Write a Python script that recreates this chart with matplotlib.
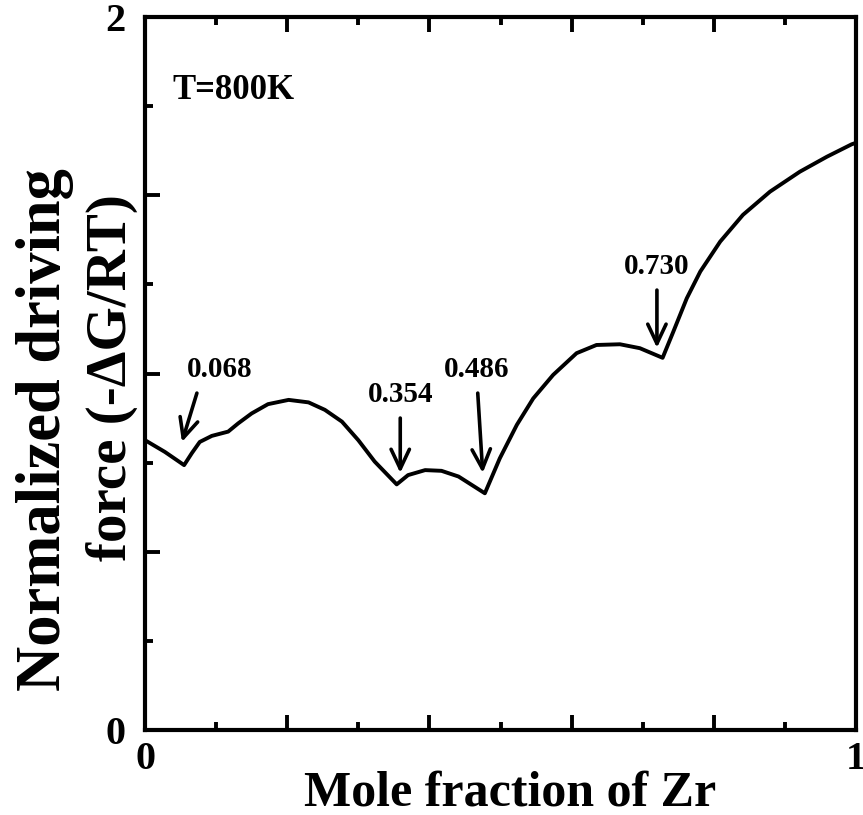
import matplotlib
matplotlib.use("Agg")
import matplotlib.pyplot as plt
from matplotlib.ticker import MultipleLocator

plt.rcParams["font.family"] = ["Liberation Serif", "DejaVu Serif"]
plt.rcParams["font.weight"] = "bold"

# curve (mole fraction of Zr, normalized driving force)
x_zr = [0.000, 0.028, 0.055, 0.066, 0.077, 0.094, 0.117, 0.131, 0.150, 0.173,
        0.202, 0.230, 0.253, 0.277, 0.300, 0.323, 0.354, 0.370, 0.394, 0.417,
        0.441, 0.478, 0.499, 0.523, 0.546, 0.574, 0.607, 0.635, 0.668, 0.696,
        0.728, 0.743, 0.762, 0.781, 0.809, 0.841, 0.879, 0.921, 0.959, 0.994,
        1.000]
force = [0.813, 0.780, 0.743, 0.777, 0.808, 0.825, 0.837, 0.860, 0.888, 0.914,
         0.926, 0.919, 0.898, 0.865, 0.813, 0.753, 0.689, 0.715, 0.729, 0.727,
         0.711, 0.664, 0.762, 0.856, 0.930, 0.996, 1.057, 1.080, 1.082, 1.071,
         1.044, 1.117, 1.211, 1.286, 1.370, 1.445, 1.510, 1.566, 1.608, 1.643,
         1.647]

# arrow annotations: label, text pos, arrow tail, arrow head
labels = ["0.068", "0.354", "0.486", "0.730"]
label_xy = [(0.105, 1.010), (0.359, 0.940), (0.467, 1.010), (0.720, 1.299)]
tail_xy = [(0.073, 0.945), (0.359, 0.875), (0.468, 0.945), (0.720, 1.234)]
head_xy = [(0.052, 0.808), (0.359, 0.721), (0.475, 0.721), (0.720, 1.072)]

x_ticks = [0, 0.2, 0.4, 0.6, 0.8, 1.0]
x_ticklabels = ["0", "", "", "", "", "1"]
y_ticks = [0, 0.5, 1.0, 1.5, 2.0]
y_ticklabels = ["0", "", "", "", "2"]

fig = plt.figure(figsize=(8.63, 8.15), dpi=100)
ax = fig.add_axes([145/863, 85/815, 711/863, 713/815])

ax.plot(x_zr, force, color="black", lw=2.8, solid_joinstyle="round")

for lab, lxy, t, h in zip(labels, label_xy, tail_xy, head_xy):
    ax.text(lxy[0], lxy[1], lab, ha="center", va="center", fontsize=21, fontweight="bold")
    ax.annotate("", xy=h, xytext=t,
                arrowprops=dict(arrowstyle="->,head_length=0.7,head_width=0.33",
                                mutation_scale=20, color="black", lw=2.6,
                                shrinkA=0, shrinkB=0))

ax.text(0.038, 1.795, "T=800K", ha="left", va="center", fontsize=25, fontweight="bold")

ax.set_xlim(0, 1)
ax.set_ylim(0, 2)
ax.set_xticks(x_ticks)
ax.set_xticklabels(x_ticklabels)
ax.set_yticks(y_ticks)
ax.set_yticklabels(y_ticklabels)
ax.xaxis.set_minor_locator(MultipleLocator(0.1))
ax.yaxis.set_minor_locator(MultipleLocator(0.25))

ax.tick_params(axis="both", which="both", direction="in", width=2.8, labelsize=29)
ax.tick_params(axis="x", which="both", top=True, bottom=True, pad=8)
ax.tick_params(axis="y", which="both", left=True, right=False, pad=14)
ax.tick_params(which="major", length=11)
ax.tick_params(which="minor", length=6)
for s in ax.spines.values():
    s.set_linewidth(3)

fig.text(510/863, 1 - 805/815, "Mole fraction of Zr", ha="center", va="baseline",
         fontsize=36, fontweight="bold")
fig.text(45/863, 1 - 430/815, "Normalized driving", rotation=90,
         ha="center", va="center", fontsize=45, fontweight="bold")
fig.text(112/863, 1 - 378/815, "force (-\u0394G/RT)", rotation=90,
         ha="center", va="center", fontsize=41, fontweight="bold")

fig.savefig("out.png", dpi=100, facecolor="white")
